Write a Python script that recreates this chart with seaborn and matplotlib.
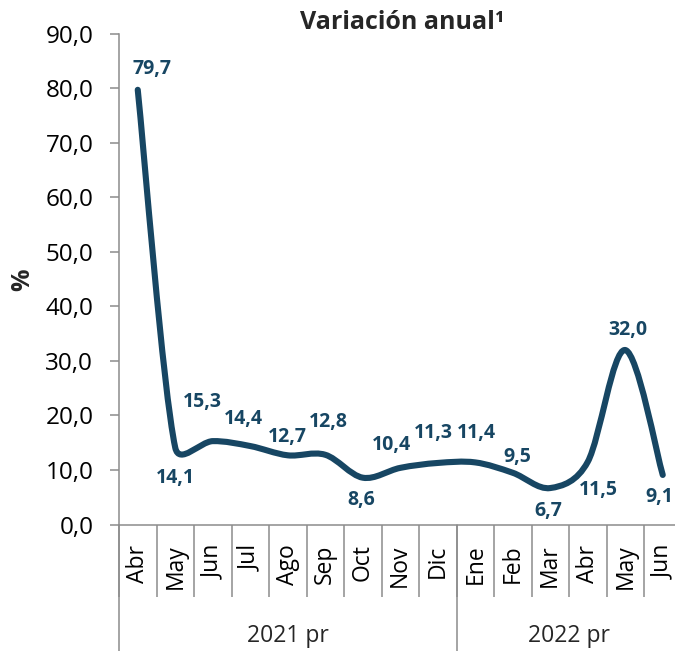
import numpy as np
import matplotlib.pyplot as plt
import seaborn as sns
from matplotlib.path import Path
from matplotlib.patches import PathPatch
from matplotlib.transforms import blended_transform_factory

# datos
meses = ["Abr", "May", "Jun", "Jul", "Ago", "Sep", "Oct", "Nov", "Dic",
         "Ene", "Feb", "Mar", "Abr", "May", "Jun"]
variacion = [79.7, 14.1, 15.3, 14.4, 12.7, 12.8, 8.6, 10.4, 11.3,
             11.4, 9.5, 6.7, 11.5, 32.0, 9.1]
anios = ["2021 pr", "2022 pr"]
meses_por_anio = [9, 6]

# posicion de las etiquetas de datos (pixeles respecto al punto)
desplaz = [(14, 21), (0, -30), (-10, 39), (-7, 27), (0, 18), (3, 33), (-1, -22),
           (-9, 23), (-4, 30), (1, 29), (5, 16), (-2, -23), (11, -28), (3, 20), (-3, -22)]

azul = "#174663"
gris = "#8C8C8C"

sns.set_theme(style="white")
plt.rcParams["font.family"] = ["Open Sans", "DejaVu Sans"]

fig = plt.figure(figsize=(6.75, 6.51), dpi=100)
ax_w, ax_h = 562.5, 491.0
ax = fig.add_axes([119 / 675, 126.4 / 651, ax_w / 675, ax_h / 651])
ax.set_xlim(-0.5, 14.5)
ax.set_ylim(0, 90)

# linea suavizada (bezier tipo excel)
x = np.arange(len(variacion))
sx, sy = ax_w / 15, ax_h / 90
P = np.column_stack([x * sx, np.array(variacion) * sy])
n = len(P)
verts = [P[0]]
codes = [Path.MOVETO]
for i in range(n - 1):
    p0 = P[max(i - 1, 0)]
    p1 = P[i]
    p2 = P[i + 1]
    p3 = P[min(i + 2, n - 1)]
    lim = np.linalg.norm(p2 - p1) / 2
    t1 = (p2 - p0) / 6
    t2 = (p3 - p1) / 6
    if np.linalg.norm(t1) > lim:
        t1 = t1 * lim / np.linalg.norm(t1)
    if np.linalg.norm(t2) > lim:
        t2 = t2 * lim / np.linalg.norm(t2)
    verts += [p1 + t1, p2 - t2, p2]
    codes += [Path.CURVE4] * 3
verts = np.array(verts) / [sx, sy]
ax.add_patch(PathPatch(Path(verts, codes), facecolor="none", edgecolor=azul,
                       lw=4.4, capstyle="round", joinstyle="round"))

for i, (v, (dx, dy)) in enumerate(zip(variacion, desplaz)):
    ax.annotate(f"{v:.1f}".replace(".", ","), (i, v), xytext=(dx, dy),
                textcoords="offset pixels", ha="center", va="center",
                fontsize=14, fontweight="bold", color=azul, annotation_clip=False)

# ejes
yt = np.arange(0, 91, 10)
ax.set_yticks(yt)
ax.set_yticklabels([f"{t:.1f}".replace(".", ",") for t in yt])
ax.tick_params(axis="y", left=True, length=6.5, width=1.1, color=gris,
               pad=12, labelsize=17.5, labelcolor="black")

ax.set_xticks(x)
ax.set_xticklabels(meses, rotation=90, va="top", ha="center")
ax.tick_params(axis="x", which="major", length=0, pad=14.4, labelsize=16.5,
               labelcolor="black")
ax.set_xticks(np.arange(-0.5, 15, 1), minor=True)
ax.tick_params(axis="x", which="minor", bottom=True, length=52, width=1.1,
               color=gris)

sns.despine(ax=ax)
for s in ["left", "bottom"]:
    ax.spines[s].set_color(gris)
    ax.spines[s].set_linewidth(1.1)

# grupos de anios
trans = blended_transform_factory(ax.transData, ax.transAxes)
bordes = -0.5 + np.cumsum([0] + meses_por_anio)
for b in bordes:
    ax.plot([b, b], [0, -0.27], transform=trans, color=gris, lw=1.1, clip_on=False)
for k, anio in enumerate(anios):
    ax.text((bordes[k] + bordes[k + 1]) / 2, -0.227, anio, transform=trans,
            ha="center", va="center", fontsize=16.5)

fig.text(23 / 675, 1 - 280 / 651, "%", rotation=90, ha="center", va="center",
         fontsize=18, fontweight="bold")
fig.text(402 / 675, 1 - 22.5 / 651, "Variación anual¹", ha="center", va="center",
         fontsize=18, fontweight="bold")

fig.savefig("out.png", dpi=100)
